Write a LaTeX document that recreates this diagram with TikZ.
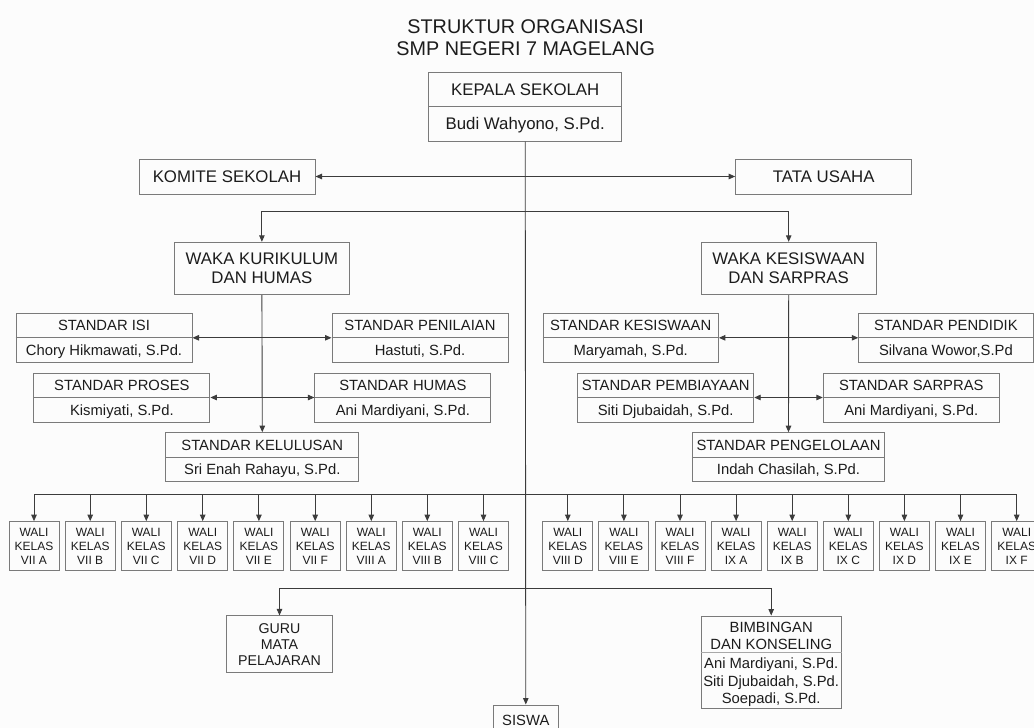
\documentclass[tikz,border=0pt]{standalone}
\usepackage{fontspec}
\setmainfont{Liberation Sans}
\usetikzlibrary{arrows.meta}
\definecolor{lnc}{HTML}{3C3C3C}
\definecolor{bxc}{HTML}{7A7A7A}
\definecolor{txc}{HTML}{1C1C1C}
\definecolor{bgc}{HTML}{FCFCFC}
\definecolor{dvc}{HTML}{A8A8A8}
\newcommand\fT{\fontsize{19.8}{21.7}\selectfont}
\newcommand\fA{\fontsize{16.8}{18.7}\selectfont}
\newcommand\fB{\fontsize{14.8}{17.5}\selectfont}
\newcommand\fG{\fontsize{14.2}{16}\selectfont}
\newcommand\fW{\fontsize{12}{13.8}\selectfont}
% name, x, y, w, h, font, baseline offset, top text, bottom text
\newcommand\tbox[9]{%
  \node[box, minimum width=#4pt, minimum height=#5pt] (#1) at (#2,#3) {};
  \draw[boxln] (#1.west) -- (#1.east);
  \node[lbl, font=#6] (#1-t) at (#2,#3-#5/4+#7) {#8};
  \node[lbl, font=#6] (#1-b) at (#2,#3+#5/4+#7) {#9};
}
\begin{document}
\begin{tikzpicture}[x=1pt,y=-1pt,
  box/.style={draw=bxc, line width=1pt, rectangle, inner sep=0pt, fill=bgc, text=txc, align=center},
  boxln/.style={draw=bxc, line width=1pt},
  lbl/.style={text=txc, inner sep=0pt, anchor=base},
  ln/.style={draw=lnc, line width=0.9pt},
  arr/.style={ln, -{Triangle[length=6.5pt,width=5.5pt]}},
  darr/.style={ln, {Triangle[length=6.5pt,width=5.5pt]}-{Triangle[length=6.5pt,width=5.5pt]}},
]
\useasboundingbox[fill=bgc] (0,0) rectangle (1034,728);

% title
\node[text=txc, align=center, font=\fT, inner sep=0pt] (title) at (525.7,37.5) {STRUKTUR ORGANISASI\\SMP NEGERI 7 MAGELANG};

% top level
\tbox{kep}{525.2}{106.5}{193}{69}{\fA}{6}{KEPALA SEKOLAH}{Budi Wahyono, S.Pd.}
\node[box, minimum width=176pt, minimum height=35pt] (kom) at (227,176.5) {};
\node[lbl, font=\fA] (kom-t) at (227,182.5) {KOMITE SEKOLAH};
\node[box, minimum width=176pt, minimum height=35pt] (tu) at (823.7,176.5) {};
\node[lbl, font=\fA] (tu-t) at (823.7,182.5) {TATA USAHA};

% waka
\node[box, minimum width=175.7pt, minimum height=52.4pt, font=\fA] (wk) at (261.9,268.5) {WAKA KURIKULUM\\DAN HUMAS};
\node[box, minimum width=175.3pt, minimum height=52.4pt, font=\fA] (ws) at (788.7,268.5) {WAKA KESISWAAN\\DAN SARPRAS};

% left standards
\tbox{isi}{104}{337.8}{176}{49}{\fB}{5.3}{STANDAR ISI}{Chory Hikmawati, S.Pd.}
\tbox{pen}{420}{337.8}{176}{49}{\fB}{5.3}{STANDAR PENILAIAN}{Hastuti, S.Pd.}
\tbox{pro}{121.9}{397.5}{176}{49}{\fB}{5.3}{STANDAR PROSES}{Kismiyati, S.Pd.}
\tbox{hum}{402.9}{397.5}{176}{49}{\fB}{5.3}{STANDAR HUMAS}{Ani Mardiyani, S.Pd.}
\tbox{kel}{262.3}{457.2}{193.3}{49}{\fB}{5.3}{STANDAR KELULUSAN}{Sri Enah Rahayu, S.Pd.}

% right standards
\tbox{kes}{630.7}{337.8}{175.3}{49}{\fB}{5.3}{STANDAR KESISWAAN}{Maryamah, S.Pd.}
\tbox{pdk}{945.9}{337.8}{174.3}{49}{\fB}{5.3}{STANDAR PENDIDIK}{Silvana Wowor,S.Pd}
\tbox{bia}{665.7}{397.5}{176}{49}{\fB}{5.3}{STANDAR PEMBIAYAAN}{Siti Djubaidah, S.Pd.}
\tbox{sar}{911.3}{397.5}{176}{49}{\fB}{5.3}{STANDAR SARPRAS}{Ani Mardiyani, S.Pd.}
\tbox{pgl}{788.5}{457.2}{192.4}{49}{\fB}{5.3}{STANDAR PENGELOLAAN}{Indah Chasilah, S.Pd.}

% wali kelas
\foreach \i/\x/\t in {1/34/VII A,2/90.2/VII B,3/146.3/VII C,4/202.7/VII D,5/258.9/VII E,6/315.2/VII F,7/371.3/VIII A,8/427.3/VIII B,9/483.5/VIII C,
  10/567.8/VIII D,11/623.9/VIII E,12/680/VIII F,13/736.1/IX A,14/792.2/IX B,15/848.3/IX C,16/904.4/IX D,17/960.5/IX E,18/1016.7/IX F}{
  \node[box, minimum width=50pt, minimum height=49.3pt, font=\fW] (w\i) at (\x,546.3) {WALI\\KELAS\\\t};
}

% guru, bk, siswa
\node[box, minimum width=105.6pt, minimum height=56.7pt, font=\fG] (guru) at (279.5,644.3) {GURU\\MATA\\PELAJARAN};
\node[box, minimum width=140.3pt, minimum height=92.3pt] (bk) at (771.2,662.2) {};
\draw[draw=dvc, line width=0.8pt] (bk.west |- 0,652.7) -- (bk.east |- 0,652.7);
\node[text=txc, inner sep=0pt, align=center, font=\fB] (bk-t) at (771.2,635.7) {BIMBINGAN\\DAN KONSELING};
\node[text=txc, inner sep=0pt, align=center, font=\fB] (bk-b) at (771.2,682.3) {Ani Mardiyani, S.Pd.\\Siti Djubaidah, S.Pd.\\Soepadi, S.Pd.};
\node[box, minimum width=65pt, minimum height=40pt] (sis) at (525.8,725) {};
\node[lbl, font=\fB] (sis-t) at (525.8,725) {SISWA};

% junction coordinates
\coordinate (jk) at (525.5,211.7);
\coordinate (jw) at (525.5,494);
\coordinate (jg) at (525.5,588.3);

% connectors
\draw[arr] (kep.south) -- (sis.north);
\draw[darr] (kom.east) -- (tu.west);
\draw[arr] (jk) -| (wk.north);
\draw[arr] (jk) -| (ws.north);
\draw[arr] (wk.south) -- (kel.north);
\draw[arr] (ws.south) -- (pgl.north);
\draw[darr] (isi.east) -- (pen.west);
\draw[darr] (pro.east) -- (hum.west);
\draw[darr] (kes.east) -- (pdk.west);
\draw[darr] (bia.east) -- (sar.west);
\draw[ln] (w1.north |- jw) -- (w18.north |- jw);
\foreach \i in {1,...,18}{
  \draw[arr] (w\i.north |- jw) -- (w\i.north);
}
\draw[arr] (jg) -| (guru.north);
\draw[arr] (jg) -| (bk.north);
\end{tikzpicture}
\end{document}
